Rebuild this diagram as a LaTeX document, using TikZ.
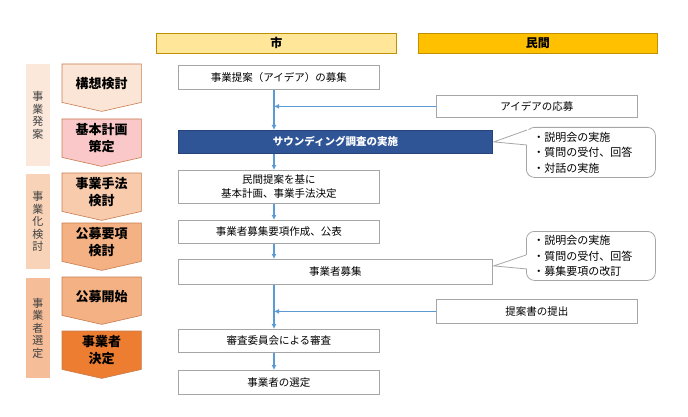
\documentclass[tikz,border=0pt]{standalone}
\usepackage{fontspec}
\setmainfont{Noto Sans CJK JP}
\usetikzlibrary{arrows.meta,positioning,calc}

\definecolor{hdrA}{HTML}{FFE699}
\definecolor{hdrB}{HTML}{FFC000}
\definecolor{hdrline}{HTML}{BF9000}
\definecolor{sndblue}{HTML}{2F5597}
\definecolor{arrblue}{HTML}{5B9BD5}
\definecolor{boxgray}{HTML}{A6A6A6}
\definecolor{chevline}{HTML}{C97C4E}
\definecolor{phA}{HTML}{FBE5D6}
\definecolor{phB}{HTML}{FAC8C8}
\definecolor{phC}{HTML}{F8CBAD}
\definecolor{phD}{HTML}{F4B183}
\definecolor{phE}{HTML}{ED7D31}
\definecolor{sideA}{HTML}{FCE8DA}
\definecolor{sideB}{HTML}{F9D3B8}
\definecolor{sideC}{HTML}{F5BD98}
\definecolor{txtgray}{HTML}{404040}

\begin{document}
\begin{tikzpicture}[
  x=1pt, y=-1pt,
  arr/.style={-{Latex[length=5pt,width=5pt]}, line width=1.4pt, draw=arrblue},
  box/.style={draw=boxgray, fill=white, line width=0.8pt, align=center, inner sep=0pt,
    anchor=north west, font=\fontsize{10.5}{14}\selectfont, text=black},
  hdr/.style={draw=hdrline, line width=0.8pt, anchor=north west, inner sep=0pt,
    minimum height=20pt, font=\bfseries\fontsize{12}{14}\selectfont},
  chevtxt/.style={anchor=north west, inner sep=0pt, minimum width=79pt, minimum height=38pt,
    align=center, font=\bfseries\fontsize{13}{16.5}\selectfont},
  chev/.style={draw=chevline, line width=0.6pt},
  side/.style={anchor=north west, inner sep=0pt, minimum width=23.5pt, align=center,
    text=txtgray, font=\fontsize{11}{12.5}\selectfont},
  note/.style={draw=boxgray, fill=white, line width=0.8pt, rounded corners=8pt, anchor=north west,
    inner xsep=7pt, inner ysep=0pt, text width=115pt, align=left,
    font=\fontsize{11}{15.5}\selectfont}
]
  \useasboundingbox (0,0) rectangle (688,417);

  % column headers
  \node[hdr, fill=hdrA, minimum width=240pt] (hcity) at (156,33) {市};
  \node[hdr, fill=hdrB, minimum width=239pt] (hpriv) at (418,33) {民間};

  % phase bars on the left
  \node[side, fill=sideA, minimum height=102pt] (s1) at (26,64) {事\\業\\発\\案};
  \node[side, fill=sideB, minimum height=95pt] (s2) at (26,174) {事\\業\\化\\検\\討};
  \node[side, fill=sideC, minimum height=100pt] (s3) at (26,278) {事\\業\\者\\選\\定};

  % chevrons
  \foreach \i/\ty/\col/\txt in {1/64/phA/構想検討, 2/119/phB/基本計画\\策定, 3/173/phC/事業手法\\検討,
      4/223/phD/公募要項\\検討, 5/277/phD/公募開始, 6/331/phE/事業者\\決定} {
    \node[chevtxt] (c\i) at (62,\ty) {};
    \draw[chev, fill=\col] (c\i.north west) -- (c\i.north east) -- (c\i.south east)
      -- ($(c\i.south)+(0,9)$) -- (c\i.south west) -- cycle;
    \node[chevtxt, anchor=center] at (c\i.center) {\txt};
  }

  % city column
  \node[box, minimum width=201pt, minimum height=24pt] (b1) at (178,65) {事業提案（アイデア）の募集};
  \node[box, minimum width=314pt, minimum height=23pt, fill=sndblue, draw=sndblue!80!black,
    text=white, font=\bfseries\fontsize{10.5}{14}\selectfont] (snd) at (178,130) {サウンディング調査の実施};
  \node[box, minimum width=201pt, minimum height=33pt] (b2) at (178,170) {民間提案を基に\\基本計画、事業手法決定};
  \node[box, minimum width=201pt, minimum height=23pt] (b3) at (178,220) {事業者募集要項作成、公表};
  \node[box, minimum width=314pt, minimum height=25pt] (b4) at (178,259) {事業者募集};
  \node[box, minimum width=201pt, minimum height=23pt] (b5) at (178,329) {審査委員会による審査};
  \node[box, minimum width=201pt, minimum height=24pt] (b6) at (178,370) {事業者の選定};

  % private column
  \node[box, minimum width=201pt, minimum height=22pt] (idea) at (436,95) {アイデアの応募};
  \node[box, minimum width=201pt, minimum height=24pt] (prop) at (436,299) {提案書の提出};

  \node[note, minimum height=50pt] (n1) at (526,127) {・説明会の実施\\・質問の受付、回答\\・対話の実施};
  \node[note, minimum height=49pt] (n2) at (526,231) {・説明会の実施\\・質問の受付、回答\\・募集要項の改訂};

  % callout pointers
  \coordinate (t1) at ($(snd.east)+(1,0)$);
  \coordinate (t2) at ($(b4.east)+(1,-6)$);
  \fill[white] (t1) -- ($(n1.north west)+(1,3)$) -- ($(n1.north west)+(4,3)$)
    -- ($(n1.north west)+(4,18)$) -- ($(n1.north west)+(1,18)$) -- cycle;
  \draw[boxgray, line width=0.8pt] ($(n1.north west)+(1,3)$) -- (t1) -- ($(n1.north west)+(1,18)$);
  \fill[white] (t2) -- ($(n2.north west)+(0,24)$) -- ($(n2.north west)+(4,24)$)
    -- ($(n2.north west)+(4,38)$) -- ($(n2.north west)+(1,38)$) -- cycle;
  \draw[boxgray, line width=0.8pt] ($(n2.north west)+(0,24)$) -- (t2) -- ($(n2.north west)+(1,38)$);

  % flow
  \coordinate (spine) at (274,0);
  \draw[arr] (b1.south -| spine) -- (snd.north -| spine);
  \draw[arr] (idea.west) -- (idea.west -| spine);
  \draw[arr] (snd.south -| spine) -- (b2.north -| spine);
  \draw[arr] (b2.south -| spine) -- (b3.north -| spine);
  \draw[arr] (b3.south -| spine) -- (b4.north -| spine);
  \draw[arr] (b4.south -| spine) -- (b5.north -| spine);
  \draw[arr] (prop.west) -- (prop.west -| spine);
  \draw[arr] (b5.south -| spine) -- (b6.north -| spine);
\end{tikzpicture}
\end{document}
